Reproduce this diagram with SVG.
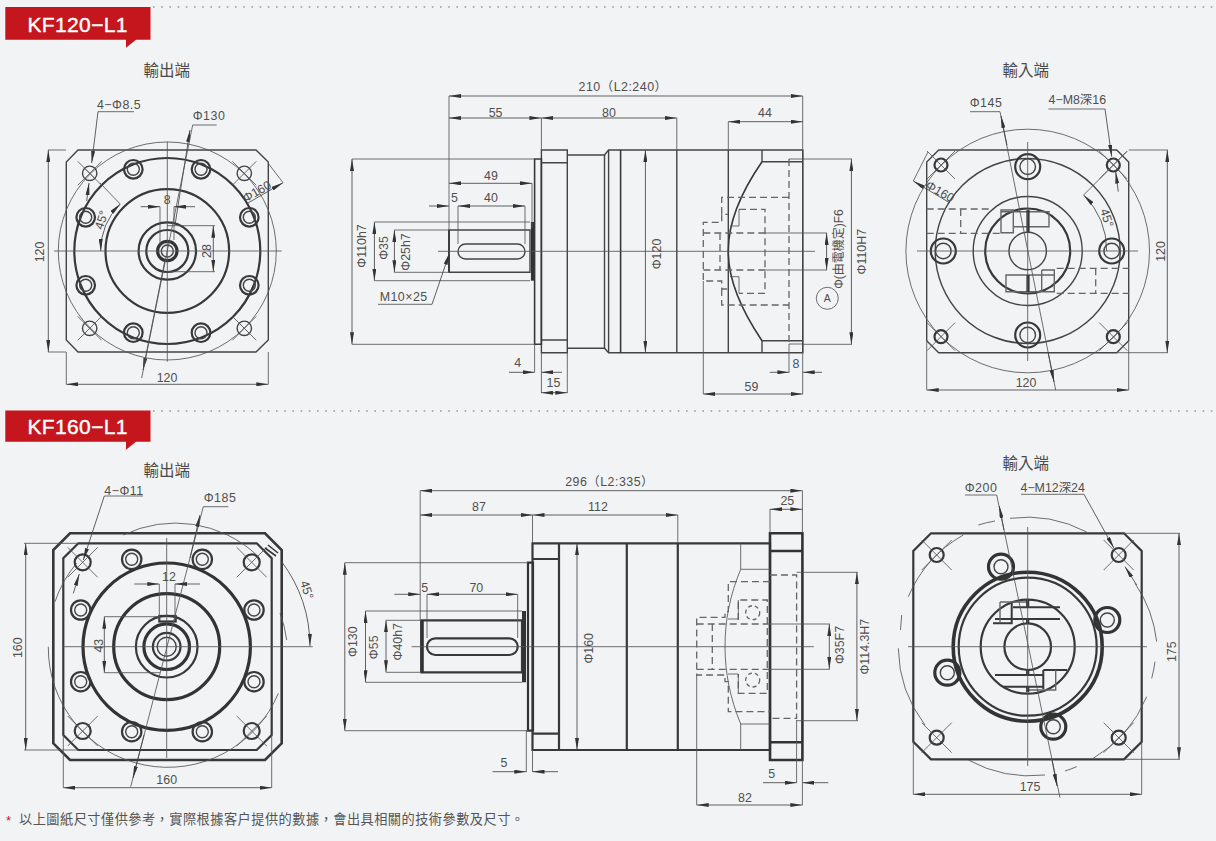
<svg xmlns="http://www.w3.org/2000/svg" width="1216" height="841" viewBox="0 0 1216 841">
<style>
text{font-family:"Liberation Sans","Noto Sans CJK TC",sans-serif;fill:#4f4f4f;font-size:12.4px;text-anchor:middle;dominant-baseline:central}
.ti{font-size:15.5px;fill:#4a4a4a}
.sp{letter-spacing:.5px}
.tag{font-size:21px;fill:#fff;font-weight:400;stroke:#fff;stroke-width:.4}
.foot{font-size:13.2px;text-anchor:start;fill:#555}
path,line,circle,rect{fill:none;stroke-linecap:butt}
.x{stroke:#333;stroke-width:3.2}
.k{stroke:#383838;stroke-width:2.2}
.m{stroke:#444;stroke-width:1.4}
.h{stroke:#555;stroke-width:.85}
.d{stroke:#666;stroke-width:1.3;stroke-dasharray:7 4}
.a{stroke:#444;stroke-width:.85;marker-start:url(#ar);marker-end:url(#ar)}
.e{stroke:#444;stroke-width:.85;marker-end:url(#ar)}
.dot{stroke:#9a9a9a;stroke-width:1.6;stroke-dasharray:1.6 6.6}
</style>
<defs>
<marker id="ar" viewBox="0 0 12 4" refX="12" refY="2" markerWidth="12" markerHeight="4" markerUnits="userSpaceOnUse" orient="auto-start-reverse"><path d="M0 0L12 2L0 4Z" style="fill:#333;stroke:none"/></marker>
<g id="b1"><circle r="9.3" class="k"/><circle r="6" class="m"/></g>
<g id="b2"><circle r="12.5" class="k"/><circle r="7.8" class="m"/></g>
<g id="b3"><circle r="9.7" class="k"/><circle r="6" class="m"/></g>
<g id="b4"><circle r="12.5" class="x"/><circle r="7" class="m"/></g>
<g id="c1"><circle r="7.2" class="m"/><path class="h" d="M-12 -12L12 12M-12 12L12 -12M-5 -5L5 5"/></g>
<g id="c2"><circle r="6.5" class="k"/><path class="h" d="M-14 -14L14 14M-14 14L14 -14"/></g>
<g id="c3"><circle r="8" class="k"/><path class="h" d="M-15 -15L15 15M-15 15L15 -15"/></g>
<g id="c4"><circle r="7" class="k"/><path class="h" d="M-15 -15L15 15M-15 15L15 -15"/></g>
</defs>
<rect id="bg" x="0" y="0" width="1216" height="841" style="fill:#f2f3f4;stroke:none"/>

<g id="tag1">
<path d="M5.3 7H150.5V39.7H136L126 47.7V39.7H5.3Z" style="fill:#c4161c;stroke:none"/>
<text class="tag" x="77.5" y="24" textLength="100">KF120−L1</text>
<line class="dot" x1="153" y1="7" x2="1216" y2="7"/>
</g>
<g id="tag2">
<path d="M5.3 410.5H150.5V441.7H136L126 449.7V441.7H5.3Z" style="fill:#c4161c;stroke:none"/>
<text class="tag" x="77.5" y="426" textLength="100">KF160−L1</text>
<line class="dot" x1="153" y1="411" x2="1216" y2="411"/>
</g>

<g id="kf120-output">
<text class="ti" x="166.7" y="70.5">輸出端</text>
<path class="m" d="M78 150H256L268.3 162V340L256 352H78L66.3 340V162Z"/>
<circle class="h" cx="167.3" cy="251" r="109"/>
<circle class="k" cx="167.3" cy="251" r="93"/>
<circle class="k" cx="167.3" cy="251" r="61.8"/>
<circle class="k" cx="167.3" cy="251" r="28.7"/>
<circle class="k" cx="167.3" cy="251" r="21"/>
<circle class="x" cx="167.3" cy="251" r="9.7"/>
<circle class="m" cx="167.3" cy="251" r="6"/>
<use href="#b1" x="85.7" y="217.3"/><use href="#b1" x="133.3" y="169.3"/><use href="#b1" x="201" y="169.3"/><use href="#b1" x="249.3" y="217.3"/>
<use href="#b1" x="85.7" y="285.3"/><use href="#b1" x="249.3" y="285.3"/><use href="#b1" x="133.3" y="332.7"/><use href="#b1" x="201" y="332.7"/>
<use href="#c1" x="89.7" y="173.3"/><use href="#c1" x="244.3" y="173.3"/><use href="#c1" x="89.7" y="328.3"/><use href="#c1" x="244.3" y="328.3"/>
<path class="h" d="M54 251H281.7M167.3 141.7V361.7"/>
<path class="a" d="M48.3 150V352"/><path class="h" d="M48 150H66M48 352H66"/>
<text x="40" y="252" transform="rotate(-90 40 252)">120</text>
<path class="a" d="M66.3 384.3H268.3"/><path class="h" d="M66.3 352V384.3M268.3 352V384.3"/>
<text x="167" y="378">120</text>
<text class="sp" x="119" y="104.5">4−Φ8.5</text>
<path class="h" d="M98 111.7H134"/><path class="e" d="M98 111.7L91.7 163"/><path class="e" d="M86.7 201L89 183"/>
<text class="sp" x="209" y="116">Φ130</text>
<path class="h" d="M192.7 125H216.7"/><path class="e" d="M175 225L190 130"/><path class="e" d="M165 260L143 370"/><path class="h" d="M192.7 125L141.7 378"/>
<text x="257" y="191.7" transform="rotate(-30 257 191.7)">Φ160</text>
<path class="h" d="M268 163L283 182.7"/><path class="e" d="M248 203L283 182.7"/>
<text x="167.3" y="200">8</text>
<path class="e" d="M140.7 206.7H160"/><path class="e" d="M195 206.7H174"/><path class="h" d="M160 206.7V245M174 206.7V240"/>
<path class="a" d="M213.3 225.7V271.7"/><path class="h" d="M167 225.7H215M167 271.7H215"/>
<text x="206.7" y="251" transform="rotate(-90 206.7 251)">28</text>
<path class="a" d="M100.7 251A66.6 66.6 0 0 1 120.2 204"/><path class="h" d="M100 183L120.2 204"/>
<text x="101.7" y="220" transform="rotate(-72 101.7 220)">45°</text>
</g>

<g id="kf120-side">
<path class="m" d="M541.4 150H567.3V352.7H541.4ZM541.4 162.7H567.3M541.4 340H567.3"/>
<path class="k" d="M534.6 159H541.4V344.3H534.6Z" style="stroke-width:1.6"/>
<path class="m" d="M567.3 155H604.5L608.6 150H802.7V352.7H608.6L604.5 348.3H567.3"/>
<path class="m" d="M604.5 155V348.3M608.6 150V352.7M802.7 150V352.7"/>
<path class="k" d="M620.6 150V352.7" style="stroke-width:1.6"/>
<path class="m" d="M676.8 150V352.7M728.3 150V352.7M762 150V161.7H802.7M762 352.7V340.7H802.7"/>
<path class="k" style="stroke-width:1.6" d="M762 161.7C748 182 728 215 728.3 251C728 287 748 320 762 340.7"/>
<path class="m" d="M449 230H530V272.3H449Z"/>
<path class="k" d="M449 230V272.3" style="stroke-width:1.8"/>
<path class="x" d="M532.5 222V280.7"/>
<rect class="m" x="458" y="244" width="67" height="15" rx="7.5"/>
<path class="h" d="M438 251.3H815"/>
<path class="d" d="M789 197.3H721.7V214.3H728M721.7 214.3V222.3H703.3V281H721.7V289H728M721.7 289V305H789M789 159V344M720 233V270M703.3 233H765M703.3 270H765M739 209.3H765V293.3H739"/>
<path class="h" d="M730 226H739V209.3M730 276.7H739V293.3M789 159H802.7M789 344H802.7M789 344V372.3"/>
<text class="sp" x="623" y="87">210（L2:240）</text>
<path class="a" d="M449 96H802.7"/><path class="h" d="M449 96V230M802.7 96V150"/>
<text x="495.6" y="113">55</text><text x="609" y="113">80</text>
<path class="a" d="M449 118H541.4"/><path class="a" d="M541.4 118H676.8"/><path class="h" d="M541.4 118V150M676.8 118V150"/>
<text x="765" y="113">44</text>
<path class="a" d="M728.3 121.7H802.7"/><path class="h" d="M728.3 121.7V150"/>
<text x="491" y="176">49</text>
<path class="a" d="M449 183.3H532"/><path class="h" d="M532 183.3V228"/>
<text x="454.5" y="198">5</text><text x="491" y="198">40</text>
<path class="e" d="M429 206H449"/><path class="a" d="M458 206H525"/><path class="h" d="M458 206V244M525 206V244"/>
<path class="a" d="M352 159V344.3"/><path class="h" d="M352 159H534.6M352 344.3H534.6"/>
<text x="361.5" y="246" transform="rotate(-90 361.5 246)">Φ110h7</text>
<path class="a" d="M374.4 222V280.7"/><path class="h" d="M374.4 222H530M374.4 280.7H530"/>
<text x="383.5" y="248" transform="rotate(-90 383.5 248)">Φ35</text>
<path class="a" d="M394.4 230V272.3"/><path class="h" d="M394.4 230H449M394.4 272.3H449"/>
<text x="405.5" y="252" transform="rotate(-90 405.5 252)">Φ25h7</text>
<text class="sp" x="403.7" y="296.5">M10×25</text>
<path class="h" d="M378 304.3H432"/><path class="e" d="M432 304.3L449.5 253"/>
<text x="517.7" y="363">4</text>
<path class="e" d="M509 372.3H534.6"/><path class="e" d="M562 372.3H541.4"/><path class="h" d="M534.6 344V372.3M541.4 352V393"/>
<text x="553.5" y="383">15</text>
<path class="a" d="M541.4 392.7H567.3"/><path class="h" d="M567.3 352V393"/>
<text x="751.5" y="386.5">59</text>
<path class="a" d="M703.3 394H802.7"/><path class="h" d="M703.3 281V394M802.7 352V394"/>
<text x="796" y="364">8</text>
<path class="e" d="M769.8 372.3H789.4"/><path class="e" d="M822 372.3H802.7"/>
<text x="656.8" y="254" transform="rotate(-90 656.8 254)">Φ120</text>
<path class="a" d="M645.4 150V352.7"/>
<path class="a" d="M826.6 233V270"/><path class="h" d="M765 233H827M765 270H827"/>
<text x="839.3" y="249" transform="rotate(-90 839.3 249)" style="font-size:12px">Φ(由電機定)F6</text>
<circle class="h" cx="827.3" cy="298.3" r="11"/><text x="827.3" y="298.3" style="font-size:10.5px">A</text>
<path class="a" d="M851.4 159V344.3"/><path class="h" d="M802.7 159H852M802.7 344.3H852"/>
<text x="861.7" y="251.7" transform="rotate(-90 861.7 251.7)">Φ110H7</text>
</g>

<g id="kf120-input">
<text class="ti" x="1025.7" y="70.5">輸入端</text>
<path class="m" d="M938.7 150H1116.7L1128.7 162V340.7L1116.7 352.7H938.7L926.7 340.7V162Z"/>
<circle class="h" cx="1027.7" cy="251" r="121.8"/>
<circle class="m" cx="1027.7" cy="251" r="92.5"/>
<circle class="m" cx="1027.7" cy="251" r="54.5"/>
<circle class="k" cx="1027.7" cy="251" r="42.5"/>
<circle class="m" cx="1027.7" cy="251" r="18.7"/>
<use href="#b2" x="943.3" y="251"/><use href="#b2" x="1111.7" y="251"/><use href="#b2" x="1027.7" y="166.7"/><use href="#b2" x="1027.7" y="335"/>
<use href="#c2" x="941" y="165"/><use href="#c2" x="1113.3" y="165"/><use href="#c2" x="941" y="336.7"/><use href="#c2" x="1113.3" y="336.7"/>
<path class="d" d="M926.7 209H993M926.7 233.3H1000M960.7 209V233.3M1056.7 268.3H1128.7M1056.7 293.3H1128.7M1095.7 268.3V293.3"/>
<path class="m" style="stroke:#666" d="M1001 210H1013.3V232.7H1001ZM1001 211.7H1049V226.7H1013.3M1006 275H1054.3V291.7H1006ZM1041.7 270H1054.3V275M1041.7 270V291.7"/>
<path class="x" d="M1028 210V232M1028 275V292"/>
<path class="h" d="M917 251H1138M1027.7 142V361"/>
<path class="a" d="M1167.3 150V352.7"/><path class="h" d="M1128.7 150H1168M1116 352.7H1168"/>
<text x="1160.5" y="251.5" transform="rotate(-90 1160.5 251.5)">120</text>
<path class="a" d="M926.7 390H1128.7"/><path class="h" d="M926.7 340V390M1128.7 340V390"/>
<text x="1026" y="383">120</text>
<text class="sp" x="986" y="103.3">Φ145</text>
<path class="h" d="M970 111.7H1000L1055.7 390"/><path class="e" d="M1007 145L1001 116"/><path class="e" d="M1048 352L1054 382"/>
<text x="1077.3" y="100">4−M8深16</text>
<path class="h" d="M1048.3 109H1105"/><path class="e" d="M1105 109L1111.7 156.7"/><path class="e" d="M1118.3 191.7L1115.7 171.7"/>
<text x="940" y="191.7" transform="rotate(30 940 191.7)">Φ160</text>
<path class="h" d="M913.3 181L928 152"/><path class="e" d="M950 203L913.3 181"/>
<path class="h" d="M1083.6 195L1126.7 151.7"/><path class="e" d="M1106.7 251A79 79 0 0 0 1083.6 195"/>
<text x="1106.7" y="218" transform="rotate(72 1106.7 218)">45°</text>
</g>

<g id="kf160-output">
<text class="ti" x="166.7" y="470">輸出端</text>
<path class="k" style="stroke-width:2.6" d="M70 533.3H265L281.7 550V743.3L265 760H70L53.3 743.3V550Z"/>
<path class="k" d="M78.3 543.3H256.7L271.7 558.3V735L256.7 750H78.3L63.3 735V558.3Z"/>
<path class="h" d="M55 601.7A119.5 119.5 0 0 1 76.7 563M123.3 535A119.5 119.5 0 0 1 256.7 555M280 613A119.5 119.5 0 0 1 286.7 640M278.3 693.3A119.5 119.5 0 0 1 48.3 646.7"/>
<circle class="x" cx="166.7" cy="646.7" r="83.7"/>
<circle class="x" cx="166.7" cy="646.7" r="53"/>
<circle class="k" cx="166.7" cy="646.7" r="30.8"/>
<circle class="x" cx="166.7" cy="646.7" r="22.8"/>
<circle class="k" cx="166.7" cy="646.7" r="13.8"/>
<circle class="m" cx="166.7" cy="646.7" r="9.5"/>
<rect class="k" x="159.3" y="616" width="16.4" height="5.5"/>
<use href="#b3" x="80.7" y="610"/><use href="#b3" x="131.7" y="559.3"/><use href="#b3" x="202.3" y="559.3"/><use href="#b3" x="254" y="610"/>
<use href="#b3" x="80.7" y="681.7"/><use href="#b3" x="254" y="681.7"/><use href="#b3" x="131.7" y="731.7"/><use href="#b3" x="202.3" y="731.7"/>
<use href="#c3" x="82.7" y="562.3"/><use href="#c3" x="251.7" y="562.3"/><use href="#c3" x="82.7" y="731"/><use href="#c3" x="251.7" y="731"/>
<path class="k" style="stroke-width:1.6" d="M268 545L278 553M265 548L276 556"/>
<path class="h" d="M63 646.7H312.7M166.7 538V758"/>
<path class="a" d="M25.7 543.3V750"/><path class="h" d="M24 543.3H78M24 750H78"/>
<text x="17.7" y="647.7" transform="rotate(-90 17.7 647.7)">160</text>
<path class="a" d="M63.3 787.7H271.7"/><path class="h" d="M63.3 735V787.7M271.7 735V787.7"/>
<text x="166.7" y="780">160</text>
<text class="sp" x="124" y="490.5">4−Φ11</text>
<path class="h" d="M104.3 496H143"/><path class="e" d="M104.3 496L83.3 560"/><path class="e" d="M73.3 593.3L79.3 574"/>
<text class="sp" x="220" y="498.3">Φ185</text>
<path class="h" d="M203.3 506.7H228.3M203.3 506.7L130.7 786.7"/><path class="e" d="M190 558L200 515"/><path class="e" d="M144 735L133 778"/>
<text x="169" y="577">12</text>
<path class="e" d="M134.3 584H159.3"/><path class="e" d="M200 584H175"/><path class="h" d="M159.3 584V620M175 584V620"/>
<path class="a" d="M104.3 616.7V672.7"/><path class="h" d="M104.3 616.7H160M104.3 672.7H160"/>
<text x="99.3" y="645.7" transform="rotate(-90 99.3 645.7)">43</text>
<path class="e" d="M281.7 561.7A143 143 0 0 1 310 646"/>
<text x="306.7" y="590" transform="rotate(72 306.7 590)">45°</text>
</g>

<g id="kf160-side">
<path class="k" d="M532.5 543.3H770V750H532.5Z"/>
<path class="k" d="M532.5 559H559M532.5 733.7H559M559 543.3V750M626.8 543.3V750M677.8 543.3V750"/>
<path class="x" d="M528 562.7H533V730.7H528Z" style="stroke-width:2.2"/>
<path class="x" d="M770 533.3H802.4V760H770ZM770 551H802.4M770 742.3H802.4" style="stroke-width:2.6"/>
<path class="k" d="M421.5 620.3H522V672.3H421.5Z"/>
<path class="x" d="M422 620V672.5" style="stroke-width:3.6"/>
<path class="x" d="M524 611V682.3" style="stroke-width:4"/>
<rect class="k" x="427" y="638.3" width="90.7" height="16.7" rx="8.3"/>
<path class="h" d="M411.6 646.7H813.8"/>
<path class="h" d="M740.7 543.3V569.3H770M740.7 569.3C730 595 725 620 725 646.7C725 672 730 698 740.7 724H770M740.7 724V750"/>
<path class="d" d="M770 581.7H728.3V611.7H725V617.3H696.7V675H725V681.7H728.3V711.7H770M696.7 624H770M696.7 669.3H770M712.3 624V669.3M738.3 620V600H767.3V693.3H738.3V674M770 575H796.6V718.3H770"/>
<circle class="d" style="stroke-dasharray:4 3" cx="752.7" cy="612.7" r="7"/>
<circle class="d" style="stroke-dasharray:4 3" cx="752.7" cy="680" r="7"/>
<path class="h" d="M728 619H738.3V600M728 674H738.3V693"/>
<text class="sp" x="609.6" y="482.3">296（L2:335）</text>
<path class="a" d="M420.2 490.7H802.4"/><path class="h" d="M420.2 490.7V620M802.4 490.7V533M532.5 515V543M677.8 515V543M770 509V533"/>
<text x="479" y="507.3">87</text><text x="598" y="507.3">112</text><text x="787.3" y="501">25</text>
<path class="a" d="M420.2 515H532.5"/><path class="a" d="M532.5 515H677.8"/><path class="a" d="M770 509.3H802.4"/>
<text x="424.7" y="587.7">5</text><text x="476.3" y="588">70</text>
<path class="e" d="M394.4 594.3H420.2"/><path class="a" d="M427 594.3H517.7"/><path class="h" d="M427 594.3V638M517.7 594.3V638"/>
<path class="a" d="M344.8 562.7V730.7"/><path class="h" d="M344.8 562.7H528M344.8 730.7H528"/>
<text x="353.4" y="641.7" transform="rotate(-90 353.4 641.7)">Φ130</text>
<path class="a" d="M365.5 611V682.3"/><path class="h" d="M365.5 611H522M365.5 682.3H522"/>
<text x="374" y="647.3" transform="rotate(-90 374 647.3)">Φ55</text>
<path class="a" d="M386 620.3V672.3"/><path class="h" d="M386 620.3H421M386 672.3H421"/>
<text x="397.8" y="641.7" transform="rotate(-90 397.8 641.7)">Φ40h7</text>
<path class="a" d="M577 543.3V750"/>
<text x="589" y="648.3" transform="rotate(-90 589 648.3)">Φ160</text>
<path class="a" d="M829.3 624V669"/><path class="h" d="M770 624H830M770 669.3H830"/>
<text x="840.3" y="645" transform="rotate(-90 840.3 645)">Φ35F7</text>
<path class="a" d="M856.9 572.3V720.7"/><path class="h" d="M796.6 572.3H858M796.6 720.7H858"/>
<text x="865.5" y="646.7" transform="rotate(-90 865.5 646.7)">Φ114.3H7</text>
<text x="503.9" y="762.7">5</text>
<path class="e" d="M492.5 771.7H526.3"/><path class="e" d="M558 771.7H532.5"/><path class="h" d="M526.3 730V772M532.5 750V772"/>
<text x="771.8" y="774.3">5</text>
<path class="e" d="M763 782.7H796.6"/><path class="e" d="M828.3 782.7H802.4"/><path class="h" d="M796.6 720V783"/>
<text x="745" y="798.3">82</text>
<path class="a" d="M696.7 805H802.4"/><path class="h" d="M696.7 675V805M802.4 760V805"/>
</g>

<g id="kf160-input">
<text class="ti" x="1025.7" y="463">輸入端</text>
<path class="k" d="M931 533.3H1124L1141.7 551V741.7L1124 759.3H931L913.3 741.7V551Z"/>
<path class="h" d="M908.3 596.7A129 129 0 0 1 963.3 535M978.3 525A129 129 0 0 1 995 521M1010 518.3A129 129 0 0 1 1086.7 532M1135 583.3A129 129 0 0 1 1156.7 641.7M1155 661.7A129 129 0 0 1 1151.7 678.3M1146.7 696.7A129 129 0 0 1 1093.3 758.3M1076.7 766.7A129 129 0 0 1 1065 771M1045 775A129 129 0 0 1 968.3 760M925 725A129 129 0 0 1 898.3 648.3M901.7 615L900.5 630"/>
<circle class="x" cx="1027.7" cy="646.7" r="74.5" style="stroke-width:3.6"/>
<circle class="k" cx="1027.7" cy="646.7" r="69"/>
<circle class="k" cx="1027.7" cy="646.7" r="47"/>
<circle class="k" cx="1027.7" cy="646.7" r="23.3"/>
<use href="#b4" x="1001" y="566.7"/><use href="#b4" x="1107.3" y="620"/><use href="#b4" x="947.3" y="672.7"/><use href="#b4" x="1053.3" y="726.7"/>
<use href="#c4" x="936.7" y="555"/><use href="#c4" x="1118.7" y="555"/><use href="#c4" x="936.7" y="737.7"/><use href="#c4" x="1118.7" y="737.7"/>
<path class="k" style="stroke-width:2" d="M1013 607.3H1060M995 619H1060M993 623.3H1011.7V603M995 675H1043.3M1003 686.7H1043.3M1043.3 670V689M1043.3 670H1067"/>
<path class="m" style="stroke:#666" d="M1000 602H1027M1000 602V623M1055.7 670V690H1027"/>
<path class="x" d="M1027.7 600V607M1027.7 618V624M1027.7 670V675M1027.7 687V692"/>
<path class="h" d="M908 646.7H1147M1027.7 527V766"/>
<path class="a" d="M1179 533.3V759.3"/><path class="h" d="M1124 533.3H1180M1124 759.3H1180"/>
<text x="1171.7" y="651.7" transform="rotate(-90 1171.7 651.7)">175</text>
<path class="a" d="M913.3 794.3H1141.7"/><path class="h" d="M913.3 742V794.3M1141.7 742V794.3"/>
<text x="1030" y="786.7">175</text>
<text class="sp" x="981" y="488">Φ200</text>
<path class="h" d="M965 495H996.7L1060 797.7"/><path class="e" d="M1004 530L999.3 506"/><path class="e" d="M1052 760L1057 786"/>
<text x="1052.7" y="488">4−M12深24</text>
<path class="h" d="M1021 494.3H1084"/><path class="e" d="M1084 494.3L1114 548.3"/><path class="e" d="M1136.7 585L1125 566.7"/>
</g>

<g id="footnote">
<text x="6" y="820" class="foot" style="fill:#c4161c">*</text>
<text x="19" y="819" class="foot" textLength="505">以上圖紙尺寸僅供參考，實際根據客户提供的數據，會出具相關的技術參數及尺寸。</text>
</g>
</svg>
